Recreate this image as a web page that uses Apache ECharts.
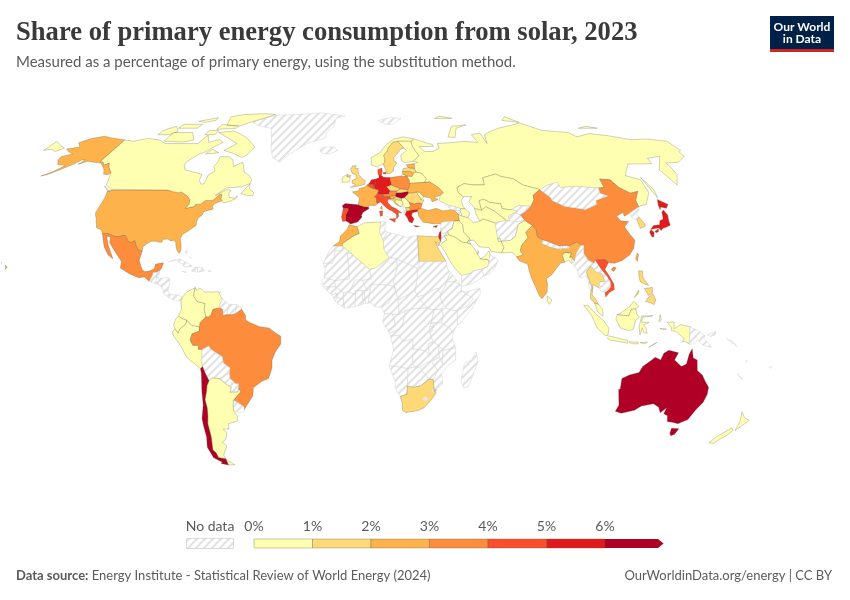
<!DOCTYPE html>
<html>
<head>
<meta charset="utf-8">
<title>Share of primary energy consumption from solar, 2023</title>
<script src="https://cdn.jsdelivr.net/npm/echarts@6/dist/echarts.min.js"></script>
<style>
  html, body { margin: 0; padding: 0; background: #fff; }
  #chart { width: 850px; height: 600px; }
</style>
</head>
<body>
<div id="chart"></div>
<script>
// values, in percent. countries not listed here have no data
const countries = ['Canada','United States','Mexico','Brazil','Chile','Argentina','Colombia','Venezuela','Ecuador','Peru',
  'Ireland','United Kingdom','Spain','Portugal','France','Belgium','Netherlands','Luxembourg','Germany','Denmark','Switzerland','Austria','Italy','Slovenia','Croatia',
  'Hungary','Slovakia','Czechia','Poland','Lithuania','Latvia','Estonia','Belarus','Ukraine','Norway','Sweden','Finland','Russia','Romania','Bulgaria','Greece','Cyprus','Serbia','Bosnia','North Macedonia','Moldova',
  'Turkey','Israel','Iraq','Saudi Arabia','Kuwait','Qatar','UAE','Iran','Azerbaijan','Turkmenistan','Uzbekistan','Kazakhstan','Pakistan','India','Bangladesh','Sri Lanka',
  'China','South Korea','Japan','Taiwan','Thailand','Vietnam','Malaysia','Indonesia','Philippines','Australia','New Zealand','Morocco','Algeria','Egypt','South Africa'];
const solarShare = [0.6,2.6,3.6,3.7,6.6,0.9,0.4,0.1,0.1,0.4,
  0.8,1.9,6.3,4.6,2.5,4.5,5.4,2.2,5.6,4.4,4.3,3.6,4.2,2.4,1.5,
  6.2,1.6,1.8,3.3,2.4,1.6,2.6,0.3,2.9,0.2,1.5,0.5,0.1,1.9,3.8,5.9,5.3,0.1,0.1,1.5,0.5,
  2.6,5.4,0.1,0.2,0.1,0.1,0.9,0.2,0.1,0.1,0.1,0.5,0.9,2.3,0.5,0.9,
  3.3,1.9,5.1,2.4,1.6,4.6,0.9,0.2,1.2,6.8,0.7,2.6,0.4,1.3,1.7];
const legendTicks = ['0%','1%','2%','3%','4%','5%','6%'];
const legendColors = ['#ffffb2','#fed976','#feb24c','#fd8d3c','#fc4e2a','#e31a1c','#b10026'];

// country outlines as flat lon,lat rings
const outlines = {
  'Greenland':[[-44,60,-41,63,-32,68,-22,70.5,-22,73,-18,76,-18,80,-12,81.5,-30,83.5,-45,82.5,-60,82,-68,80,-73,78,-66,76,-58,75,-54,70,-52,66,-49,62]],
  'Svalbard':[[11,79,20,80.5,27,80,20,77,15,77]],
  'United States':[[-124.7,48.4,-123,49,-95.2,49,-94.6,48.7,-92,48.3,-89.6,48,-88.4,48.3,-84.9,46.9,-82.5,45.3,-82.1,43.6,-83.1,42,-79,42.8,-79.2,43.5,-76.8,43.6,-75,45,-71.5,45,-70.3,46.2,-69.2,47.4,-68,47.3,-67.8,45.7,-67,44.9,-70,43.8,-70.7,42.7,-70,41.7,-71.5,41.4,-74,40.7,-74.2,39.5,-75.5,38.5,-76,37,-75.7,35.5,-77.5,34.3,-79,33.3,-81,32,-81.4,30.5,-80.5,28.3,-80.1,26,-80.6,25.1,-81.7,25.9,-82.7,27.7,-83,29.1,-84.2,30,-85.5,29.7,-87,30.4,-89,30.3,-89.3,29.2,-90.5,29.2,-92,29.6,-94,29.6,-95.5,28.8,-97.2,27.6,-97.2,25.9,-99.2,26.4,-100.5,28,-101.5,29.8,-103,29,-104.5,29.6,-106.5,31.75,-108.2,31.75,-108.2,31.33,-111,31.33,-114.8,32.5,-117.1,32.5,-118.4,34,-120.6,34.6,-122,36.8,-122.5,37.8,-123.8,39.5,-124.3,40.4,-124.1,43,-124,46.2],
    [-141,69.6,-141,60.3,-139,60,-137.5,58.9,-135.5,59.8,-133.5,58,-130,55.9,-130.5,55,-133,55.2,-135,57,-137,58.2,-140,59.7,-144,60,-148,60.5,-151.5,59.2,-150,61,-152,61,-154,59.2,-158,57,-162,55,-164.5,54.5,-161,56,-157.5,58.8,-162,59,-165,61,-165.5,62.5,-161,63.5,-165,64.5,-168,65.6,-162,66.5,-166,68.3,-162,70.2,-156.5,71.3,-150,70.5],
    [-156,20.7,-155,19.8,-155.6,19],[-158.2,21.6,-157.7,21.4,-158,21.2],[-160,22.2,-159.4,22.1,-159.6,21.9]],
  'Canada':[[-141,69.6,-141,60.3,-139,60,-137.5,58.9,-135.5,59.8,-133.5,58,-130,55.9,-128,52.5,-127.5,51,-123.5,49.3,-123,49,-95.2,49,-94.6,48.7,-92,48.3,-89.6,48,-88.4,48.3,-84.9,46.9,-82.5,45.3,-82.1,43.6,-83.1,42,-79,42.8,-79.2,43.5,-76.8,43.6,-75,45,-71.5,45,-70.3,46.2,-69.2,47.4,-68,47.3,-67.8,45.7,-67,44.9,-66,44,-63.5,44.6,-60.8,45.6,-60.2,46.8,-61.5,45.9,-64,46.2,-65,47.8,-64.3,48.8,-66.5,49.2,-71,46.9,-67,49.8,-60,50.2,-56,51.5,-55.7,53,-58,54.8,-61,56,-64,60,-65.5,59.5,-68,58.3,-70,61,-73,62.3,-78,62.4,-77.5,60,-78.5,58.5,-76.7,56.5,-79,54.8,-79,51.5,-80.5,51.3,-82.2,52.9,-82.3,55.1,-87,56,-92.5,57,-94.5,58.8,-94.5,60.2,-92.5,62,-90.5,63.5,-87.5,64.5,-86,66,-81.5,68.5,-85,69.8,-90,68.5,-94,71.8,-96,68,-101,68,-108,68,-115,68,-120,69.5,-125,70,-128,70.3,-135,69],
    [-61.5,66.5,-64,63,-66,62,-72,63.8,-78,65,-73,68,-79,70,-89,73,-80,73.7,-72,71.5,-68,70],[-62,82.5,-70,83,-85,82.4,-92,81,-88,76.5,-79,76.3,-75,78,-68,80],[-105,68.7,-117,69,-117,73,-105,73,-100,69.5],[-125,72,-118,72,-115,73.5,-120,76,-125,74],[-80,75,-92,74.5,-92,77,-80,76],[-80,64,-87,63.5,-85,65.5],[-59,47.7,-55.5,46.9,-53,46.8,-52.8,48,-55.5,49.5,-56,51.5],[-128,50.7,-123.5,48.4,-125,48.8],[-105,75,-117,75,-117,77,-105,77],[-90,72,-96,72,-96,74,-90,74],[-99,79,-105,78,-110,78.5,-100,80.5]],
  'Mexico':[[-117.1,32.5,-114.8,32.5,-111,31.33,-108.2,31.33,-108.2,31.75,-106.5,31.75,-104.5,29.6,-103,29,-101.5,29.8,-100.5,28,-99.2,26.4,-97.2,25.9,-97.8,22.4,-95.9,18.9,-94.5,18.1,-92,18.6,-90.7,19.3,-90.3,21,-87,21.5,-87.5,19.5,-88.2,18.5,-89.1,17.9,-91,17.8,-91,16.9,-92.2,14.5,-94.5,16.2,-97,15.9,-101.5,17.5,-105.5,19.5,-105.5,22,-109,25.6,-112.5,29,-113,31.2,-114.8,31.5,-112.8,28,-111,25.5,-109.5,23,-112,24.5,-114.5,27.5,-116,30.5]],
  'Guatemala':[[-92.2,14.5,-91,16.9,-91,17.8,-89.1,17.9,-89.2,15.9,-88.2,15.7,-89.3,14.4,-90.5,13.8]],
  'Belize':[[-89.1,17.9,-88.2,18.5,-88.3,16.5,-89.2,15.9]],
  'Honduras':[[-89.2,15.9,-88.2,15.7,-84,15.9,-83.2,15,-87.3,13,-87.8,13.3,-89.3,14.4]],
  'El Salvador':[[-89.3,14.4,-87.8,13.3,-90,13.7]],
  'Nicaragua':[[-83.2,15,-83.7,11,-85.7,11.1,-87.3,13]],
  'Costa Rica':[[-83.7,11,-82.6,9.5,-83,8.3,-85.7,10,-85.7,11.1]],
  'Panama':[[-82.6,9.5,-79.5,9.5,-77.3,8.6,-77.9,7.2,-80.4,7.3,-83,8.3]],
  'Cuba':[[-84.9,21.9,-80,23,-75,20.7,-74.2,20.2,-77.7,19.9,-78.5,21,-82,22.6]],
  'Haiti':[[-74.4,18.4,-71.7,18,-71.7,19.8,-73,19.9]],
  'Dominican Republic':[[-71.7,18,-68.5,18.4,-69.8,19.6,-71.7,19.8]],
  'Jamaica':[[-78.3,18.3,-76.3,18,-77,17.8]],
  'Puerto Rico':[[-67.2,18.5,-65.7,18.4,-66.2,18]],
  'Bahamas':[[-78.2,25.2,-77.5,26.6,-77.2,25.2],[-75.8,23.6,-75,23,-75.4,23.1]],
  'Trinidad':[[-61.9,10.2,-61,10.7,-61,10.1]],
  'Colombia':[[-77.3,8.6,-75.5,10.6,-72,12.2,-72.3,11,-72.5,9,-71,7,-67.5,6.2,-67.8,4,-67,1.2,-69.5,-1,-69.9,-4.2,-70,-2.5,-73,-2.2,-75.2,-0.1,-77,0.4,-78.8,1.4,-77.5,4,-77.9,7.2]],
  'Venezuela':[[-72,12.2,-71.5,11,-70,12,-68,10.6,-64,10.5,-62,10.7,-60.7,8.5,-60,8,-61,6,-61.3,4.5,-64,4,-64.8,2,-66,1,-67,1.2,-67.8,4,-67.5,6.2,-71,7,-72.5,9,-72.3,11]],
  'Guyana':[[-60,8,-58.5,6.8,-57.2,5.9,-58,2,-59.8,1.7,-59.9,4,-61.3,4.5,-61,6]],
  'Suriname':[[-57.2,5.9,-54,5.8,-54.5,2.3,-56,2,-58,2]],
  'French Guiana':[[-54,5.8,-52,4.8,-51.7,4,-54.5,2.3]],
  'Ecuador':[[-78.8,1.4,-77,0.4,-75.2,-0.1,-75.6,-1.5,-78.3,-3.4,-79,-5,-80.3,-3.4,-80.9,-2,-80,0.5]],
  'Peru':[[-80.3,-3.4,-79,-5,-78.3,-3.4,-75.6,-1.5,-75.2,-0.1,-73,-2.2,-70,-2.5,-69.9,-4.2,-73,-5.2,-74,-7.5,-72.9,-9.5,-70.5,-9.5,-70.6,-11,-69,-11,-69.5,-15.5,-69.4,-17.5,-70.4,-18.35,-76,-14,-78,-10,-81.3,-5.5,-81.3,-4.2]],
  'Brazil':[[-51.7,4,-50,1.7,-50,0,-48,-1,-44,-2.5,-40,-3,-37,-5,-35,-6,-35,-9,-37.5,-12,-39,-15,-39.2,-18,-41,-22,-44,-23,-48,-25.5,-48.6,-28.5,-52,-32.2,-53.4,-33.8,-53.2,-32.7,-56,-30.8,-57.6,-30.2,-53.8,-27,-54.6,-25.6,-54.3,-24,-55.5,-24,-57.9,-22,-58,-20,-57.5,-18,-60.2,-16.2,-60.5,-13.8,-65.3,-11,-66,-9.8,-69,-11,-70.6,-11,-70.5,-9.5,-72.9,-9.5,-74,-7.5,-73,-5.2,-69.9,-4.2,-69.5,-1,-67,1.2,-66,1,-64.8,2,-64,4,-61.3,4.5,-59.9,4,-59.8,1.7,-58,2,-56,2,-54.5,2.3]],
  'Bolivia':[[-69,-11,-66,-9.8,-65.3,-11,-60.5,-13.8,-60.2,-16.2,-57.5,-18,-58,-20,-62.6,-22,-66,-21.8,-67.2,-22.8,-68.5,-20,-69.4,-17.5,-69.5,-15.5]],
  'Paraguay':[[-58,-20,-57.9,-22,-55.5,-24,-54.3,-24,-54.6,-25.6,-55,-27,-58.6,-27.2,-57.7,-25.3,-60,-24,-62.6,-22]],
  'Uruguay':[[-57.6,-30.2,-56,-30.8,-53.2,-32.7,-53.4,-33.8,-55,-34.9,-58.4,-34]],
  'Argentina':[[-66,-21.8,-62.6,-22,-60,-24,-57.7,-25.3,-58.6,-27.2,-55,-27,-54.6,-25.6,-53.8,-27,-57.6,-30.2,-58.4,-34,-57,-36,-57.5,-38,-62,-39,-62.3,-41,-65,-41,-63.7,-42.5,-65.3,-45,-67.5,-46,-65.7,-47.5,-69,-51,-68.5,-52.5,-72,-52,-72.3,-50,-73.3,-49,-71.8,-44,-71.5,-39,-70.5,-36,-70,-33,-70.2,-30,-69,-27,-68.3,-24.5,-67.2,-22.8],[-68.6,-52.7,-65.2,-54.8,-68.6,-54.9]],
  'Chile':[[-69.4,-17.5,-68.5,-20,-67.2,-22.8,-68.3,-24.5,-69,-27,-70.2,-30,-70,-33,-70.5,-36,-71.5,-39,-71.8,-44,-73.3,-49,-72.3,-50,-72,-52,-68.5,-52.5,-71,-53.8,-74.5,-52,-75.5,-48,-74,-44,-73.7,-40,-73.5,-37,-71.5,-32,-71,-27,-70.2,-20,-70.4,-18.35],[-68.6,-52.7,-68.6,-54.9,-72,-54.3,-70,-53]],
  'Iceland':[[-24,65.5,-22,66.4,-16,66.5,-13.6,65,-18.7,63.4,-22.7,63.9]],
  'Ireland':[[-10,52,-6.3,52.2,-6,53.5,-6.2,54.1,-7.7,54.3,-7.5,55.1,-10,54]],
  'United Kingdom':[[-5.7,50,-1,50.7,1.4,51.3,1.7,52.7,0,53.5,-1.5,55,-2,56,-2,57.6,-3.8,57.6,-3,58.6,-5,58.6,-6,57,-5,55.5,-3,55,-3,53.4,-5,52.8,-5,51.7,-3,51.2],[-7.5,55.1,-5.6,54.6,-6.2,54.1,-7.7,54.3]],
  'Spain':[[-9.3,43,-8,43.8,-1.8,43.4,0.7,42.7,3.2,42.4,3.2,41.8,0.5,40.5,-0.3,39.3,0,38.7,-2,36.8,-5.3,36.1,-6.4,36.8,-7.4,37.2,-7.5,39.6,-6.3,41.6,-6.8,41.9,-8.8,41.9]],
  'Portugal':[[-8.8,41.9,-6.8,41.9,-6.3,41.6,-7.5,39.6,-7.4,37.2,-8.9,37,-9.5,38.7]],
  'France':[[-1.8,43.4,-1.2,46,-4.7,48.3,-1.6,48.7,-1.3,49.6,1.5,50.2,2.5,51,4.2,50,5.8,49.5,6.4,49.5,8.2,49,7.6,47.6,6,46.3,7,45.9,7,44.2,7.5,43.8,6,43,3.2,43.2,3.2,42.4,0.7,42.7],[8.6,42,9.4,43,9.5,41.5]],
  'Belgium':[[2.5,51,3.4,51.4,5,51.4,6,50.8,6.1,50,5.8,49.5,4.2,50]],
  'Netherlands':[[3.4,51.4,4,52,4.8,53,7,53.3,7,52,6,50.8,5,51.4]],
  'Luxembourg':[[5.8,49.5,6.1,50,6.4,49.5]],
  'Germany':[[7,53.3,8.7,53.8,8.7,54.9,9.9,54.8,11,54,14.2,53.9,14.7,51,12.2,50.3,13.8,48.7,13,47.5,10,47.3,7.6,47.6,8.2,49,6.4,49.5,6.1,50,6,50.8,7,52]],
  'Denmark':[[8.2,55,8.7,54.9,9.9,54.8,10.5,56,10.5,57.7,8.2,57],[11,55.3,12.5,55.3,12.4,56,11,55.9]],
  'Switzerland':[[6,46.3,7.6,47.6,10,47.3,10.4,46.6,9,46,7,45.9]],
  'Austria':[[10,47.3,13,47.5,13.8,48.7,17,48.7,17,48,16.1,46.9,13.5,46.5,10.4,46.6]],
  'Italy':[[7,45.9,9,46,10.4,46.6,13.5,46.5,13.7,45.6,12.3,45.3,12.3,44.2,14,42.6,16,41.9,18.5,40.2,16.9,40.4,17,39,16,38,15.7,38,16,39.8,14,41,12.3,41.7,10.5,43,8.8,44.4,7.5,43.8,7,44.2],[12.5,38,15.6,38.2,15.1,36.7],[8.2,41,9.7,41,9.5,39.2,8.5,39]],
  'Slovenia':[[13.5,46.5,16.1,46.9,16.6,46.4,15.5,45.9,15.5,45.5,13.7,45.6]],
  'Croatia':[[13.7,45.6,15.5,45.5,15.5,45.9,16.6,46.4,19,45.8,19,45,16,45.2,15.8,44.3,18.5,42.5,16,43.5,14.5,45.2,13.7,45.1]],
  'Bosnia':[[16,45.2,19,45,19.5,44,18.5,42.5,15.8,44.3]],
  'Serbia':[[19,45.8,20.5,46.1,22.5,44.3,23,43,22.3,42.3,20.5,42.3,20,42.5,19.3,43,19.5,44,19,45]],
  'Montenegro':[[18.5,42.5,19.5,44,19.3,43,20,42.5,19.3,41.9]],
  'Albania':[[19.3,41.9,20,42.5,20.5,42.3,20.9,40.9,20,39.7,19.4,40.5]],
  'North Macedonia':[[20.5,42.3,22.3,42.3,23,41.3,20.9,40.9]],
  'Greece':[[20,39.7,20.9,40.9,23,41.3,26.3,41.7,26,40.8,23.5,40.3,23,39.2,24,38,23,36.5,21.7,36.8,21,38.3],[23.6,35.5,26.3,35.2,24.5,34.95]],
  'Cyprus':[[32.3,35,34.5,35.6,33.8,34.8]],
  'Bulgaria':[[23,43,22.5,44.3,25,43.7,27,44.1,28.6,43.7,27.7,42,26.3,41.7,23,41.3,22.3,42.3]],
  'Romania':[[20.5,46.1,22.9,48,24.9,47.9,26.6,48.3,28.1,46,28.2,45.4,29.7,45.2,28.6,43.7,27,44.1,25,43.7,22.5,44.3]],
  'Moldova':[[26.6,48.3,28,48.2,30,46.4,28.2,45.4,28.1,46]],
  'Hungary':[[16.1,46.9,17,48,18.8,48,22.1,48.4,22.9,48,20.5,46.1,19,45.8,16.6,46.4]],
  'Slovakia':[[17,48,17,48.7,19,49.5,22.5,49.1,22.1,48.4,18.8,48]],
  'Czechia':[[12.2,50.3,14.7,51,16.8,50.3,19,49.5,17,48.7,13.8,48.7]],
  'Poland':[[14.2,53.9,19,54.4,23,54.4,24,52.7,23.7,51.6,23.7,50.5,22.5,49.1,19,49.5,16.8,50.3,14.7,51]],
  'Lithuania':[[21,55.3,21,56.3,25,56.4,26.7,55.6,25.7,54.3,23,54.4]],
  'Latvia':[[21,56.3,21.6,57.5,24.4,57.9,27.6,57.5,28.2,56.1,26.7,55.6,25,56.4]],
  'Estonia':[[24.4,57.9,23.5,59,28,59.5,27.6,57.5]],
  'Belarus':[[23,54.4,25.7,54.3,26.7,55.6,28.2,56.1,30.8,55.6,32.7,53.4,31.3,52,23.7,51.6,24,52.7]],
  'Ukraine':[[23.7,51.6,31.3,52,34,52.3,38,49.9,39.8,48,38,47,35,46.2,36.5,45.3,33.5,44.5,33,46,30,46.4,28,48.2,26.6,48.3,24.9,47.9,22.9,48,22.1,48.4,22.5,49.1,23.7,50.5]],
  'Norway':[[5,59,5,62,10,64,14,67.5,19,70,25,71,31,70,29,69,25.5,69,21,69,18,68.5,15,66,14,64.5,12,63,12.5,61,11.5,59,10.5,59.3,8,58.1]],
  'Sweden':[[11.5,59,12.5,61,12,63,14,64.5,15,66,18,68.5,21,69,24,66,22,65.5,17.5,62,17.3,60.5,18.8,59.8,16.7,58,16.4,56.5,14.3,55.5,13,55.4,12.5,56.5]],
  'Finland':[[21,69,25.5,69,29,69,29,66.9,30,65,31.5,62.8,27.8,60.5,23,59.9,21.3,60.8,21.5,63,25,65,24,66]],
  'Russia':[[28,59.5,30,60,27.8,60.5,31.5,62.8,30,65,29,66.9,29,69,31,70,41,67.5,41,66.7,33,66.7,35,64.5,40,64.6,44,66,44,68,54,68.5,60,69,68,68.5,67,72,73,72.8,73,68,75,72,80,73.5,87,75,105,77.7,113,74,128,73,130,71,140,72.5,150,71.5,160,69.7,170,70,180,69,180,65,178,64.5,177.5,62.5,170,60,163,59.8,163,58,162,55,157,51,155.5,57,164,62.5,156,61.7,155,59.5,142,59.3,135,54.7,141,53,140,48,135,43.5,132,43,130.7,42.5,131,45,135,48.5,130.9,47.8,127,50,125.5,53,120.5,53.3,119.8,50,116.7,49.8,113,50,106,50.3,98,50,98,52,92,50.8,87.5,49.2,80,51,77,53.3,73,54,71,54.3,69,55.3,61.5,53.8,61,51,55,51,51,51.5,47,50,47,48,49,46.5,47.5,44.9,47.7,43,48.5,41.8,46.5,41.9,40,43.5,37,45,38,47,39.8,48,38,49.9,34,52.3,31.3,52,32.7,53.4,30.8,55.6,28.2,56.1,27.6,57.5],
    [21,55.3,23,54.4,19.8,54.4],[52,71,56,70.7,60,75,68,76.7,58,76],[142,54,143.5,49,142.5,46,142,49],[95,79,105,78,100,81],[138,75,150,75,145,76],[50,80,62,80,55,81.5],[-180,68.9,-175,67.4,-170,66,-172.5,64.5,-176,65.5,-180,65]],
  'Georgia':[[40,43.5,46.5,41.9,46,41.2,43.5,41.1,41.5,41.5]],
  'Armenia':[[43.5,41.1,46,41.2,46.5,39,44.8,39.7]],
  'Azerbaijan':[[46,41.2,46.5,41.9,48.5,41.8,50.3,40.3,49,38.4,46.5,39]],
  'Turkey':[[26.3,41.7,28,42,31,41.2,35,42,38,41,41.5,41.5,43.5,41.1,44.8,39.7,44.8,37.2,42.3,37.2,36.7,36.8,36,36.2,34,36.3,32.5,36.1,30.5,36.5,28,36.7,26.3,39,26,40.8]],
  'Syria':[[36,36.2,36.7,36.8,42.3,37.2,41,34.4,38.8,33.4,36.5,32.3,35.7,33.3,36,34.6]],
  'Lebanon':[[36,34.6,35.7,33.3,35.1,33.1]],
  'Jordan':[[35.5,31,35.7,33,36.5,32.3,38.8,33.4,39,32,37,31.5,38,30,36,29.2,35,29.5]],
  'Israel':[[35.1,33.1,35.7,33.3,35.5,31,35,29.5,34.3,31.3]],
  'Iraq':[[38.8,33.4,41,34.4,42.3,37.2,44.8,37.2,46,35.8,46,33,48,31,48.5,29.9,47.7,30,47,29,44.7,29.2,42,31,39,32]],
  'Saudi Arabia':[[35,28,36,29.2,38,30,37,31.5,39,32,42,31,44.7,29.2,47,29,48.4,28.5,50,26.7,51,24.6,52,23,55.2,22.7,55.7,22,55,20,52,19,49,18.6,46.5,17.3,43.2,16.7,41,19,39,21.5,37,25]],
  'Kuwait':[[47.7,30,48.4,28.5,47,29]],
  'Qatar':[[51,24.6,51.6,25.6,51.2,26.1]],
  'UAE':[[52,23,55.2,22.7,55.7,22,56.4,24.5,56.2,26,54,24]],
  'Oman':[[55.7,22,56.4,24.5,58.6,23.6,59.8,22.5,57.7,19,55,17,53,16.6,52,19,55,20]],
  'Yemen':[[43.2,12.7,45,13,48.5,14,53,16.6,52,19,49,18.6,46.5,17.3,43.2,16.7]],
  'Iran':[[44.8,39.7,46.5,39,49,38.4,51,36.7,54,37,54,37.3,56,38,61,36.5,61,34.5,60.8,30.5,61.8,30.8,63,27.2,61.6,25.2,57,25.8,56.3,27.2,52,27.5,50,30,48.5,29.9,48,31,46,33,46,35.8,44.8,37.2]],
  'Turkmenistan':[[53,42,52.5,41.7,53,40,54,37.3,56,38,61,36.5,64,37,66.5,37.4,62,41,60,42,58.5,42.7,56,41.3]],
  'Uzbekistan':[[56,45,56,41.3,58.5,42.7,60,42,62,41,66.5,37.4,67.8,37.2,68,39,71,40.3,73,40.8,70.5,41.6,69,41.5,66,42,66,43.8,61,44.3,58.6,45.5]],
  'Kazakhstan':[[47,48,47,50,51,51.5,55,51,61,51,61.5,53.8,69,55.3,71,54.3,73,54,77,53.3,80,51,87.5,49.2,83,47,82.5,45.3,80,42.8,74,43,70.5,41.6,69,41.5,66,42,66,43.8,61,44.3,58.6,45.5,56,45,56,41.3,53,42,52.7,42.7,51,44.5,53,46.5,49,46.5]],
  'Kyrgyzstan':[[70.5,41.6,74,43,80,42.8,76,40.4,73.7,39.5,71,40.3,73,40.8]],
  'Tajikistan':[[68,39,71,40.3,73.7,39.5,75,37.4,71.5,37,67.8,37.2]],
  'Afghanistan':[[61,34.5,61,36.5,64,37,66.5,37.4,67.8,37.2,71.5,37,75,37.4,71.5,36,70,33.5,69,31.5,66.3,29.9,61,29.5,60.8,30.5]],
  'Pakistan':[[61.6,25.2,63,27.2,61.8,30.8,60.8,30.5,61,29.5,66.3,29.9,69,31.5,70,33.5,71.5,36,75,37.4,77.8,35.5,74,33,74.5,31,71,28,70,26,71,24.4,68,23.7,66.5,25.4]],
  'India':[[77.8,35.5,74,33,74.5,31,71,28,70,26,71,24.4,68,23.7,69,22.3,72.5,21,72.8,19,73.5,16,74.9,12.7,76.5,9,77.5,8,79.8,10.3,80.3,13.5,80,15.5,82.5,17,85,19.5,87,21.4,88.9,21.7,88.2,24.5,89.8,25.3,92.3,25.1,91.2,23.5,92.3,23.7,93.2,22,94.5,25,97.3,28,96,29.4,92,27.9,92,26.9,88.8,27,88.2,26.5,84,27.3,80,28.8,81,30.2,78.8,31.3,79,34]],
  'Nepal':[[80,28.8,81,30.2,88,27.8,88.2,26.5,84,27.3]],
  'Bhutan':[[88.8,27,92,26.9,92,27.9,91.5,28,89,28]],
  'Bangladesh':[[88.9,21.7,90.5,22.5,92,21.2,92.3,23.7,91.2,23.5,92.3,25.1,89.8,25.3,88.2,24.5]],
  'Sri Lanka':[[79.8,9,81.8,7.5,80.6,5.9,79.8,7]],
  'China':[[73.7,39.5,76,40.4,80,42.8,82.5,45.3,83,47,87.5,49.2,91,46,91,45,96,42.7,105,41.6,111.5,43.5,112,45,119,46.7,116,47.8,116.7,49.8,119.8,50,120.5,53.3,125.5,53,127,50,130.9,47.8,135,48.5,131,45,130.7,42.5,128,41.5,124.4,40,121.5,39,122,40.5,118,39,119,37.3,122.5,37,119.5,35,120.8,32,122,30,120.5,27,118,24.5,114,22.3,110.5,21.3,108,21.6,106.7,22.8,102.5,22.5,101.7,21.2,99.3,22.5,97.8,25,98.6,28,97.3,28,96,29.4,92,27.9,91.5,28,89,28,88,27.8,81,30.2,78.8,31.3,79,34,77.8,35.5,75,37.4],[108.7,19,110,20,111,19.5,109.6,18.2]],
  'Taiwan':[[120.2,23,121.5,25.2,121.9,24.8,120.9,22]],
  'Mongolia':[[87.5,49.2,92,50.8,98,52,98,50,106,50.3,113,50,116.7,49.8,116,47.8,119,46.7,112,45,111.5,43.5,105,41.6,96,42.7,91,45,91,46]],
  'North Korea':[[124.4,40,128,41.5,130.7,42.5,129.7,41,127.5,39.7,128.3,38.6,126.7,37.8,125,38]],
  'South Korea':[[126.7,37.8,128.3,38.6,129.4,36,129,35.2,126.5,34.4,126.5,36.5]],
  'Japan':[[130.9,34,133,35.5,136,35.8,137,37.3,139,38,140,40.5,141.4,41.4,142,39.5,141,37,140.8,35.7,139,35,136.8,34.5,135.5,33.6,135,34.6,132.5,34.3],[140,41.5,140.5,43.3,141.8,45.4,145.3,43.5,143.3,42,141,42.5],[130,33,131,33.9,132,33,131,31.2,130.2,31.3],[132.5,33.3,134.5,34.2,134.2,33.3,133,32.8]],
  'Myanmar':[[92.2,21,94,18.5,94.3,16,95.5,15.8,97.5,16.8,98,14,98.7,10.5,99.5,12,98.5,15,97.8,18,100,20.3,101.7,21.2,99.3,22.5,97.8,25,98.6,28,97.3,28,94.5,25,93.2,22]],
  'Thailand':[[97.8,18,98.5,15,99.5,12,98.7,10.5,98.3,8,100.1,6.4,101.8,5.8,100.5,8,99.2,9.5,100,13.3,102.5,12,103,14.3,105.5,14.4,104.5,17.5,102,18,100.8,19.5,100,20.3]],
  'Laos':[[100,20.3,100.8,19.5,102,18,104.5,17.5,105.5,14.4,107.5,14.7,106.5,16.5,104.5,19,102.5,22.5,101.7,21.2]],
  'Vietnam':[[102.5,22.5,106.7,22.8,108,21.6,106,19,107.5,16.5,109,13.5,109,11.5,106.7,10.3,105,8.6,104.8,10.4,105.9,11,107.5,12.5,107.5,14.7,106.5,16.5,104.5,19]],
  'Cambodia':[[102.5,12,103,14.3,105.5,14.4,107.5,14.7,107.5,12.5,105.9,11,104.8,10.4,103,10.8]],
  'Malaysia':[[100.1,6.4,101.8,5.8,103.4,4,103.5,1.4,101.3,2.9],[109.6,2,111.3,2.7,115,5,116.9,7,119,5.2,117.7,4.2,115.8,4,114.5,1.5]],
  'Indonesia':[[109.6,2,114.5,1.5,115.8,4,117.7,4.2,118,2.3,119,1,117.5,0,116.5,-3.5,114.5,-4,111,-3,110,-1.5,109,0.5],[95.3,5.6,97.5,5.2,100.5,2.2,103.5,0,106,-3,105.8,-5.8,104.5,-5.8,101,-3,98.7,1.5],[105.5,-6.8,106.5,-6,110,-6.8,114.5,-7.7,114.5,-8.7,106.5,-7.5],[115,-8.2,119,-8.3,119,-9,116,-8.9],[119.8,-8.5,123,-8.3,122,-9],[123.6,-10.3,127,-8.4,125,-9.5],[119.5,-5.5,120.4,-2.9,121,-4.7,122.5,-5,122,-3,121,-1.8,123.3,-0.9,120,-0.8,120.5,1,125,1.6,120,1.5,119.8,0.5,119,-2.5],[127.5,-0.7,128,2,128.5,0],[128,-3.2,130.8,-3.4,129,-3.5],[131,-0.8,134,-0.8,134,-3.3,137,-1.7,141,-2.6,141,-9.1,139,-8,138,-8.3,138.7,-7,135,-4.4,133,-4,132.8,-2.8]],
  'Papua New Guinea':[[141,-2.6,145,-4.3,147.8,-6,147,-6.8,150.8,-10.3,147,-9.5,144.5,-7.6,143,-9,141,-9.1],[148.5,-5.6,152,-4.2,152,-5.5,150,-6.2]],
  'Solomon Islands':[[157,-7,160,-9,159.5,-8],[160,-8.5,161.5,-10,161,-9.3]],
  'Philippines':[[120.3,16,120.6,18.5,122.2,18.4,122,16,124,13,121.5,13.8,120.5,14.5],[122,7,123.5,8.6,125.5,9.7,126.5,7.5,125.5,5.8,124,6.5],[122,11.8,123,10,123.3,9.2,125.2,10,125.5,12.3,124,12],[117.2,8.4,119.5,11.3,119.2,10]],
  'Australia':[[114,-22,114.2,-26,113.5,-26,115.7,-32,115,-34.3,118,-35,123.5,-33.9,126,-32.3,131,-31.5,134,-32.8,135.7,-34.9,137.7,-33,137.5,-35.2,139.7,-36,141,-38.2,144,-38.5,146.4,-39,150,-37.4,151.2,-33.8,153,-31,153.5,-28,153,-25.3,150.8,-23,149,-20.8,146.3,-19,145.3,-15,143.5,-14.3,142.5,-10.8,141.5,-13,141,-16.5,139,-17.5,135.5,-15,136.8,-12.3,132.5,-11.4,130.5,-12.5,129.5,-15,127,-14,125,-15.5,122.2,-17.5,121,-19.7,117,-20.7],[144.7,-40.7,148.3,-40.9,148,-43,146.7,-43.6,145.5,-42.7]],
  'New Zealand':[[172.7,-34.5,174.5,-36,175.5,-36.7,178.5,-37.7,177,-39.5,175.2,-41.6,174.8,-39.8,174.5,-38],[172.7,-40.5,174.3,-41.5,172.8,-43.7,171,-45,170,-46.5,167.5,-46.2,168.5,-44.2]],
  'New Caledonia':[[164,-20,167,-22.3,166,-22]],
  'Fiji':[[177.3,-17.5,178.6,-17.6,178,-18.2]],
  'Vanuatu':[[166.6,-15,167.2,-15.5,166.8,-15.9]],
  'Morocco':[[-5.9,35.8,-2.2,35.1,-1.2,32.5,-3.6,31.7,-8.7,28.7,-8.7,27.7,-13,27.7,-10,29.5,-9.8,31.5,-6.8,34]],
  'Western Sahara':[[-13,27.7,-8.7,27.7,-8.7,26,-12,26,-12,23.4,-13,21.3,-17,21.3,-14.5,26]],
  'Algeria':[[-2.2,35.1,1,36.5,8.6,36.9,8,33,9.5,30.2,9.8,26.5,12,23.5,6,19.5,3.2,19,-4.8,25,-8.7,27.7,-8.7,28.7,-3.6,31.7,-1.2,32.5]],
  'Tunisia':[[8.6,36.9,11,37,10.2,34,11.5,33,9.5,30.2,8,33]],
  'Libya':[[11.5,33,15,32.3,20,31,25,31.7,25,20,24,19.5,15,23,12,23.5,9.8,26.5,9.5,30.2]],
  'Egypt':[[25,31.7,30,31.4,34.3,31.3,35,29.5,34.2,27.8,32.7,29.5,34,26.5,36.9,22,25,22]],
  'Sudan':[[25,22,36.9,22,37.5,18.7,38.6,18,36.5,14.3,36,12.5,34,10,33,10.7,32.5,12,27,9.5,24,8.7,22.8,11,24,15.7,24,19.5,25,20]],
  'South Sudan':[[24,8.7,27,9.5,32.5,12,33,10.7,34,10,33.9,8,35.3,5.5,34,4.2,31,3.7,28,4.5]],
  'Chad':[[15,23,24,19.5,24,15.7,22.8,11,18.9,9,15.5,7.5,14.5,11,14,12.5,13.5,14.5,15.5,20]],
  'Niger':[[12,23.5,15,23,15.5,20,13.5,14.5,14,12.5,12,13,4,13.5,3.6,11.8,2.2,11,1,13,0.2,14.9,4,15.5,3.2,19,6,19.5]],
  'Mali':[[-4.8,25,3.2,19,4,15.5,0.2,14.9,-3,15,-5.5,10.5,-8,10.3,-11.5,12.4,-12,14.8,-5.5,15.5,-6.5,25]],
  'Mauritania':[[-8.7,27.7,-4.8,25,-6.5,25,-5.5,15.5,-12,14.8,-16.5,16.1,-16,19,-17,21.3,-13,21.3,-12,23.4,-12,26,-8.7,26]],
  'Senegal':[[-16.5,16.1,-12,14.8,-11.5,12.4,-13.7,12.4,-16.7,12.4,-17.5,14.7]],
  'Guinea-Bissau':[[-16.7,12.4,-13.7,12.4,-15,11]],
  'Guinea':[[-13.7,12.4,-11.5,12.4,-8,10.3,-8,7.7,-10.7,8.5,-10.7,10,-13,9.5,-15,11]],
  'Sierra Leone':[[-13,9.5,-10.7,10,-10.7,8.5,-11.5,7]],
  'Liberia':[[-11.5,7,-10.7,8.5,-8,7.7,-7.5,4.4]],
  "Cote d'Ivoire":[[-8,10.3,-5.5,10.5,-2.7,9.5,-3,5,-7.5,4.4,-8,7.7]],
  'Burkina Faso':[[-5.5,10.5,-3,15,0.2,14.9,1,13,2.2,11,-2.7,11,-2.7,9.5]],
  'Ghana':[[-2.7,11,0,11,0.6,6,-3,5,-2.7,9.5]],
  'Togo':[[0,11,0.9,11,1.6,6.2,0.6,6]],
  'Benin':[[0.9,11,2.2,11,3.6,11.8,2.7,6.4,1.6,6.2]],
  'Nigeria':[[3.6,11.8,4,13.5,12,13,14,12.5,14.5,11,11.5,6.5,8.5,4.7,5.5,5,4,6.4,2.7,6.4]],
  'Cameroon':[[14,12.5,14.5,11,15.5,7.5,16,2,13.2,2.2,9.7,2.3,8.5,4.7,11.5,6.5,14.5,11]],
  'Central African Republic':[[15.5,7.5,18.9,9,22.8,11,24,8.7,28,4.5,23,4.3,18.6,3.5,16,2]],
  'Gabon':[[9.7,2.3,13.2,2.2,14.5,-2,11,-3.9,8.8,-0.7]],
  'Congo':[[13.2,2.2,16,2,18.6,3.5,17.7,-1,16,-3.5,12,-5,11,-3.9,14.5,-2]],
  'DR Congo':[[18.6,3.5,23,4.3,28,4.5,31,3.7,29.6,-1.4,29,-4.5,30.7,-8.2,28.5,-9,29,-12.2,29.8,-13.4,27.2,-11.7,24,-11,22,-11,21.8,-7.3,17.6,-8,16,-5.9,12.3,-6,12,-5,16,-3.5,17.7,-1]],
  'Angola':[[12.3,-6,16,-5.9,17.6,-8,21.8,-7.3,22,-11,24,-11,22,-13,22,-16.5,23.4,-17.6,20,-18.3,14,-17.4,11.8,-17.3,13.7,-11]],
  'Zambia':[[22,-13,24,-11,27.2,-11.7,29.8,-13.4,29,-12.2,28.5,-9,30.7,-8.2,33,-9.5,33.5,-14,30.2,-15.6,28,-16,25.3,-17.8,23.4,-17.6,22,-16.5]],
  'Tanzania':[[30.5,-1,34,-1,37.6,-3,39.2,-4.7,38.8,-6.5,40.4,-10.4,35,-11.5,33,-9.5,30.7,-8.2,29,-4.5,30,-4.3,30.7,-2.4]],
  'Rwanda':[[29.6,-1.4,30.5,-1,30.7,-2.4,29,-2.6]],
  'Burundi':[[29,-2.6,30.7,-2.4,30,-4.3,29,-4.5]],
  'Uganda':[[31,3.7,34,4.2,35,1.5,34,-1,30.5,-1,29.6,-1.4]],
  'Kenya':[[34,4.2,36,4.5,39.5,3.5,41,3.9,41,-1.7,39.2,-4.7,37.6,-3,34,-1,35,1.5]],
  'Eritrea':[[36.5,14.3,38.6,18,43,12.7,40,14.5]],
  'Ethiopia':[[36.5,14.3,40,14.5,43,12.7,42.9,11,47.9,8,44.9,5,41.9,3.9,39.5,3.5,36,4.5,35.3,5.5,33.9,8,34,10,36,12.5]],
  'Somalia':[[43,11,44,10.4,51,11.9,51,10,47.5,4.5,41.6,-1.7,41,-1.7,41,3.9,44.9,5,47.9,8]],
  'Malawi':[[33,-9.5,35,-11.5,35,-16.5,33.5,-14]],
  'Mozambique':[[40.4,-10.4,40.6,-15,37,-17.5,34.8,-20,35.5,-24,32.8,-26,32,-26.8,31.3,-22.4,33,-19,30.2,-15.6,33.5,-14,35,-16.5,35,-11.5]],
  'Zimbabwe':[[25.3,-17.8,28,-16,30.2,-15.6,33,-19,31.3,-22.4,29.4,-22.2,26,-19]],
  'Botswana':[[20,-18.3,23.4,-17.6,25.3,-17.8,26,-19,29.4,-22.2,26,-24.7,23,-25.3,20,-24.8]],
  'Namibia':[[11.8,-17.3,14,-17.4,20,-18.3,20,-28,17,-28.7,15,-26,14.4,-22.5]],
  'South Africa':[[17,-28.7,20,-28,20,-24.8,23,-25.3,26,-24.7,29.4,-22.2,31.3,-22.4,32,-26.8,32.8,-26,32.8,-27.5,31,-30,28,-33,25.5,-34,20,-34.8,18.4,-34,18,-31]],
  'Lesotho':[[27,-29.6,28.7,-28.6,29.4,-29.6,28,-30.6]],
  'Eswatini':[[31,-25.8,32,-26.8,31,-27.3]],
  'Madagascar':[[49.3,-12,50.4,-15.7,47,-25,45,-25.5,43.5,-23,44,-20,44.5,-16.2,47.5,-15]]
};

// Robinson projection fitted to the picture
const robX = [1,.9986,.9954,.99,.9822,.973,.96,.9427,.9216,.8962,.8679,.835,.7986,.7597,.7186,.6732,.6213,.5722,.5322];
const robY = [0,.062,.124,.186,.248,.31,.372,.434,.4958,.5571,.6176,.6769,.7346,.7903,.8435,.8936,.9394,.9761,1];
const pxPerDeg = 2.33, yScale = 214.6, centerX = 362, equatorY = 320;

function lookup(table, lat) {
  const a = Math.min(Math.abs(lat), 89.999) / 5, i = Math.floor(a);
  return table[i] + (table[i + 1] - table[i]) * (a - i);
}
const robinson = {
  project(c) {
    return [centerX + c[0] * pxPerDeg * lookup(robX, c[1]),
            equatorY - Math.sign(c[1]) * yScale * lookup(robY, c[1])];
  },
  unproject(p) {
    const t = Math.abs(equatorY - p[1]) / yScale;
    let i = 0;
    while (i < 17 && robY[i + 1] < t) i++;
    const lat = (i + (t - robY[i]) / (robY[i + 1] - robY[i])) * 5 * (p[1] > equatorY ? -1 : 1);
    return [(p[0] - centerX) / pxPerDeg / lookup(robX, lat), lat];
  }
};

const features = [];
let minX = 1e9, minY = 1e9, maxX = -1e9, maxY = -1e9;
Object.keys(outlines).forEach(name => {
  const polys = outlines[name].map(flat => {
    const ring = [];
    for (let i = 0; i < flat.length; i += 2) {
      ring.push([flat[i], flat[i + 1]]);
      const p = robinson.project([flat[i], flat[i + 1]]);
      minX = Math.min(minX, p[0]); maxX = Math.max(maxX, p[0]);
      minY = Math.min(minY, p[1]); maxY = Math.max(maxY, p[1]);
    }
    ring.push(ring[0].slice());
    return [ring];
  });
  features.push({ type: 'Feature', properties: { name }, geometry: { type: 'MultiPolygon', coordinates: polys } });
});
echarts.registerMap('world', { type: 'FeatureCollection', features });

// no data hatch
function hatch() {
  const c = document.createElement('canvas');
  c.width = c.height = 8;
  const ctx = c.getContext('2d');
  ctx.fillStyle = '#fff';
  ctx.fillRect(0, 0, 8, 8);
  ctx.strokeStyle = '#e2e2e2';
  ctx.lineWidth = 2;
  [[-8, 8, 8, -8], [0, 8, 8, 0], [0, 16, 16, 0]].forEach(l => {
    ctx.beginPath(); ctx.moveTo(l[0], l[1]); ctx.lineTo(l[2], l[3]); ctx.stroke();
  });
  return { image: c, repeat: 'repeat' };
}
const noDataFill = hatch();

const mapData = [];
countries.forEach((name, i) => {
  const color = legendColors[Math.min(Math.floor(solarShare[i]), legendColors.length - 1)];
  mapData.push({ name, value: solarShare[i], itemStyle: { areaColor: color, borderColor: 'rgba(70,70,50,.5)', borderWidth: .5 } });
});

// legend
const barLeft = 254, barStep = 58.5, barTop = 539, barH = 9;
const legend = [
  { type: 'text', style: { x: 210, y: 526.5, text: 'No data', font: '14px Lato', fill: '#5b5b5b', align: 'center', verticalAlign: 'middle' } },
  { type: 'rect', shape: { x: 186.5, y: barTop - .5, width: 47, height: barH + 1 }, style: { fill: noDataFill, stroke: '#ccc', lineWidth: .7 } }
];
legendColors.forEach((color, i) => {
  const x = barLeft + i * barStep;
  if (i < legendColors.length - 1) {
    legend.push({ type: 'rect', shape: { x, y: barTop, width: barStep, height: barH }, style: { fill: color, stroke: 'rgba(90,90,60,.55)', lineWidth: .6 } });
  } else {
    legend.push({ type: 'polygon', shape: { points: [[x, barTop], [x + 53, barTop], [x + 58.5, barTop + barH / 2], [x + 53, barTop + barH], [x, barTop + barH]] }, style: { fill: color } });
  }
  legend.push({ type: 'text', style: { x, y: 526.5, text: legendTicks[i], font: '14px Lato', fill: '#5b5b5b', align: 'center', verticalAlign: 'middle' } });
});

const chart = echarts.init(document.getElementById('chart'));
chart.setOption({
  animation: false,
  backgroundColor: '#fff',
  title: {
    text: 'Share of primary energy consumption from solar, 2023',
    subtext: 'Measured as a percentage of primary energy, using the substitution method.',
    left: 11, top: 15, itemGap: 8,
    textStyle: { fontFamily: 'Liberation Serif', fontWeight: 'bold', fontSize: 26.6, color: '#3a3a3a' },
    subtextStyle: { fontFamily: 'Lato', fontSize: 15, color: '#5b5b5b' }
  },
  series: [{
    type: 'map',
    map: 'world',
    projection: robinson,
    left: minX, top: minY, width: maxX - minX, height: maxY - minY,
    silent: true,
    label: { show: false },
    itemStyle: { areaColor: noDataFill, borderColor: '#d2d2d2', borderWidth: .5 },
    emphasis: { disabled: true },
    select: { disabled: true },
    data: mapData
  }],
  graphic: legend.concat([
    { type: 'rect', shape: { x: 770, y: 16, width: 64, height: 33 }, style: { fill: '#002147' } },
    { type: 'rect', shape: { x: 770, y: 49, width: 64, height: 3 }, style: { fill: '#ce261e' } },
    { type: 'text', style: { x: 802, y: 27, text: 'Our World', font: 'bold 12px Lato', fill: '#fff', align: 'center', verticalAlign: 'middle' } },
    { type: 'text', style: { x: 802, y: 39, text: 'in Data', font: 'bold 12px Lato', fill: '#fff', align: 'center', verticalAlign: 'middle' } },
    { type: 'text', style: { x: 16, y: 576, text: '{b|Data source:} Energy Institute - Statistical Review of World Energy (2024)', font: '13px Lato', fill: '#5b5b5b', verticalAlign: 'middle', rich: { b: { font: 'bold 13px Lato', fill: '#5b5b5b' } } } },
    { type: 'text', style: { x: 832, y: 576, text: 'OurWorldinData.org/energy | CC BY', font: '13px Lato', fill: '#5b5b5b', align: 'right', verticalAlign: 'middle' } }
  ])
});
</script>
</body>
</html>
